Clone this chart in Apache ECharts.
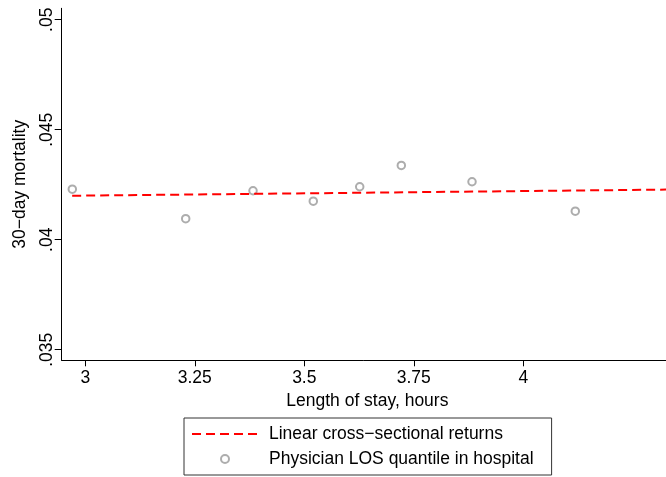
<!DOCTYPE html>
<html><head><meta charset="utf-8">
<script src="https://cdn.jsdelivr.net/npm/echarts@6/dist/echarts.min.js"></script>
<style>html,body{margin:0;padding:0;background:#fff}#c{width:666px;height:477px}</style>
</head><body><div id="c"></div>
<script>
var losHours = [2.9703, 3.2292, 3.3829, 3.5205, 3.6265, 3.7215, 3.8829, 4.1187];
var mortality = [0.04230, 0.040955, 0.042227, 0.041755, 0.042409, 0.043377, 0.042636, 0.04130];
var fitX = [2.970, 4.326];
var fitY = [0.04200, 0.04228];
var xTicks = [3, 3.25, 3.5, 3.75, 4];
var yTicks = [0.035, 0.04, 0.045, 0.05];
var lineName = 'Linear cross\u2212sectional returns';
var dotName = 'Physician LOS quantile in hospital';

var font = 'Liberation Sans, Arial, Helvetica, sans-serif';
var fs = 17.5;
var chart = echarts.init(document.getElementById('c'), null, {renderer: 'canvas'});
chart.setOption({
  animation: false,
  backgroundColor: '#fff',
  textStyle: {fontFamily: font},
  grid: {left: 61.7, right: 0, top: 8.3, bottom: 116.7, containLabel: false},
  xAxis: {
    type: 'value', min: 2.9461, max: 4.3258,
    name: 'Length of stay, hours', nameLocation: 'middle', nameGap: 25,
    nameTextStyle: {fontSize: fs, color: '#000', fontFamily: font, padding: [0, 0, 0, 7]},
    axisLine: {show: true, lineStyle: {color: '#000', width: 1}},
    axisTick: {show: true, length: 6, inside: false, customValues: xTicks, lineStyle: {color: '#000'}},
    axisLabel: {customValues: xTicks, fontSize: fs, color: '#000', margin: 9, fontFamily: font,
      formatter: function (v) { return String(+v.toFixed(2)); }},
    splitLine: {show: false}
  },
  yAxis: {
    type: 'value', min: 0.03452, max: 0.05052,
    name: '30\u2212day mortality', nameLocation: 'middle', nameGap: 33, nameRotate: 90,
    nameTextStyle: {fontSize: fs, color: '#000', fontFamily: font},
    axisLine: {show: true, lineStyle: {color: '#000', width: 1}},
    axisTick: {show: true, length: 7, customValues: yTicks, lineStyle: {color: '#000'}},
    axisLabel: {customValues: yTicks, rotate: 90, fontSize: fs, color: '#000', margin: 6, fontFamily: font,
      formatter: function (v) { return String(+v.toFixed(3)).replace(/^0/, ''); }},
    splitLine: {show: false}
  },
  legend: {
    orient: 'vertical', left: 184, top: 418,
    padding: [7, 18, 7, 7],
    borderColor: '#333', borderWidth: 1,
    itemWidth: 66, itemHeight: 8, itemGap: 7,
    textStyle: {fontSize: fs, color: '#000', fontFamily: font, padding: [0, 0, 0, 6]},
    data: [
      {name: lineName, itemStyle: {opacity: 0}},
      {name: dotName}
    ]
  },
  series: [
    {
      name: lineName, type: 'line', symbol: 'none', showSymbol: false,
      data: fitX.map(function (x, i) { return [x, fitY[i]]; }),
      lineStyle: {color: '#ff0000', width: 2, type: [9, 5]},
      itemStyle: {color: '#ff0000'}
    },
    {
      name: dotName, type: 'scatter', symbol: 'emptyCircle', symbolSize: 7.5,
      data: losHours.map(function (x, i) { return [x, mortality[i]]; }),
      itemStyle: {color: '#999999', borderColor: '#999999', borderWidth: 1.4}
    }
  ]
});
</script></body></html>
